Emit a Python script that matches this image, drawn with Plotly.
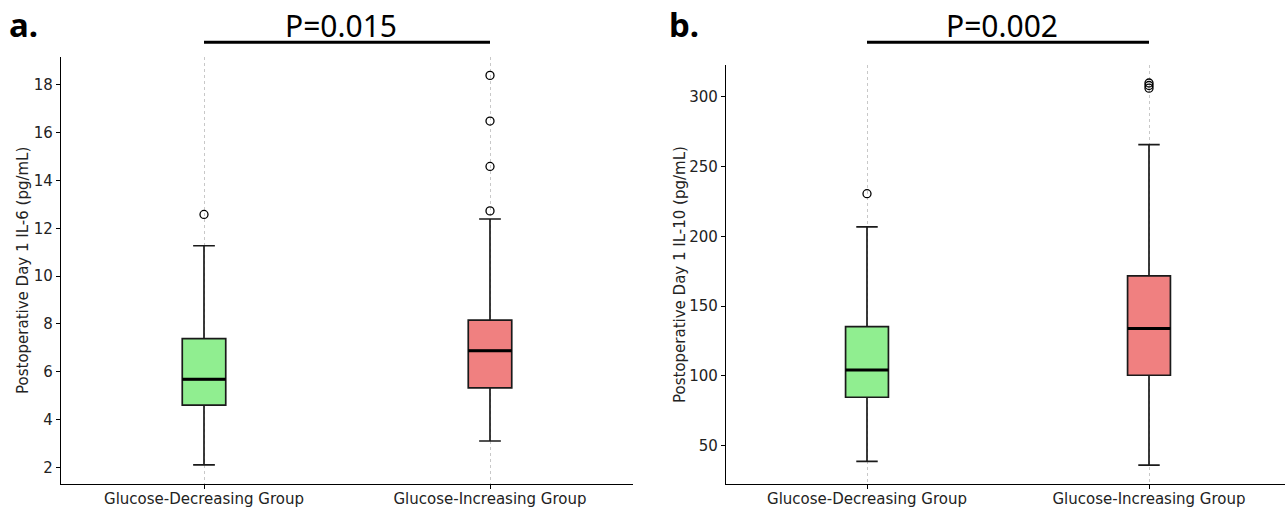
import plotly.graph_objects as go

# ---- data ----
categories = ["Glucose-Decreasing Group", "Glucose-Increasing Group"]
fill_colors = ["#90EE90", "#F08080"]

# Panel a: IL-6
il6_low = [2.1, 3.1]
il6_q1 = [4.6, 5.32]
il6_median = [5.68, 6.88]
il6_q3 = [7.38, 8.16]
il6_high = [11.27, 12.39]
il6_outliers = [[12.58], [12.73, 14.59, 16.49, 18.4]]
il6_p = "P=0.015"

# Panel b: IL-10
il10_low = [38.6, 36.0]
il10_q1 = [84.6, 100.4]
il10_median = [104.2, 134.0]
il10_q3 = [135.2, 171.7]
il10_high = [206.8, 265.8]
il10_outliers = [[230.6], [306.3, 308.2, 310.0]]
il10_p = "P=0.002"

y_titles = ["Postoperative Day 1 IL-6 (pg/mL)", "Postoperative Day 1 IL-10 (pg/mL)"]
panel_labels = ["a.", "b."]

W, H = 1285, 508
FONT = "DejaVu Sans"
BOXW = 0.152

fig = go.Figure()

panels = [
    dict(low=il6_low, q1=il6_q1, med=il6_median, q3=il6_q3, high=il6_high,
         out=il6_outliers, p=il6_p, xa="x", ya="y"),
    dict(low=il10_low, q1=il10_q1, med=il10_median, q3=il10_q3, high=il10_high,
         out=il10_outliers, p=il10_p, xa="x2", ya="y2"),
]

positions = [i + 1 for i in range(len(categories))]

for pn in panels:
    for i, cat in enumerate(categories):
        pos = positions[i]
        fig.add_trace(go.Box(
            x=[pos], q1=[pn["q1"][i]], median=[pn["med"][i]], q3=[pn["q3"][i]],
            lowerfence=[pn["low"][i]], upperfence=[pn["high"][i]],
            width=BOXW, fillcolor=fill_colors[i],
            line=dict(color="#1a1a1a", width=1.7), whiskerwidth=0.5,
            boxpoints=False, showlegend=False, hoverinfo="skip", name=cat,
            xaxis=pn["xa"], yaxis=pn["ya"],
        ))
        # thicker median line
        fig.add_trace(go.Scatter(
            x=[pos - BOXW / 2, pos + BOXW / 2], y=[pn["med"][i]] * 2,
            mode="lines", line=dict(color="black", width=3),
            showlegend=False, hoverinfo="skip", xaxis=pn["xa"], yaxis=pn["ya"],
        ))
        if pn["out"][i]:
            fig.add_trace(go.Scatter(
                x=[pos] * len(pn["out"][i]), y=pn["out"][i], mode="markers",
                marker=dict(symbol="circle-open", size=8, color="black",
                            line=dict(width=1.3, color="black")),
                showlegend=False, hoverinfo="skip", xaxis=pn["xa"], yaxis=pn["ya"],
            ))

axis_common = dict(
    showline=True, linecolor="black", linewidth=1.2,
    ticks="outside", ticklen=4, tickwidth=1, tickcolor="black",
    tickfont=dict(family=FONT, size=15, color="#222"),
    zeroline=False, mirror=False,
)

xa_common = dict(axis_common, tickvals=positions, ticktext=categories,
                 showgrid=True, gridcolor="#c8c8c8", griddash="dot", gridwidth=1,
                 ticklabelstandoff=-3)

fig.update_layout(
    width=W, height=H,
    margin=dict(l=0, r=0, t=0, b=0),
    paper_bgcolor="white", plot_bgcolor="white",
    xaxis=dict(xa_common, domain=[61 / W, 633 / W], range=[0.5, 2.5], anchor="y"),
    yaxis=dict(axis_common, domain=[1 - 484 / H, 1 - 57 / H], range=[1.30, 19.17],
               tickvals=[2, 4, 6, 8, 10, 12, 14, 16, 18], showgrid=False, anchor="x"),
    xaxis2=dict(xa_common, domain=[726 / W, 1.0], range=[0.5, 2.5 - 5 / 282], anchor="y2"),
    yaxis2=dict(axis_common, domain=[1 - 484 / H, 1 - 65 / H], range=[22.4, 322.9],
                tickvals=[50, 100, 150, 200, 250, 300], showgrid=False, anchor="x2"),
)

# y-axis titles
for x_px, y_px, txt in [(23, 271, y_titles[0]), (680, 275, y_titles[1])]:
    fig.add_annotation(xref="paper", yref="paper", x=x_px / W, y=1 - y_px / H,
                       text=txt, textangle=-90, showarrow=False,
                       xanchor="center", yanchor="middle",
                       font=dict(family=FONT, size=15, color="#222"))

# titles: P-value bars and panel labels
for k, pn in enumerate(panels):
    xref = pn["xa"]
    fig.add_shape(type="line", xref=xref, yref="paper",
                  x0=positions[0], x1=positions[1], y0=1 - 42.3 / H, y1=1 - 42.3 / H,
                  line=dict(color="black", width=3))
    fig.add_annotation(xref=xref, yref="paper", x=(positions[0] + positions[1]) / 2,
                       y=1 - 25 / H, text=pn["p"], showarrow=False, xshift=-6,
                       xanchor="center", yanchor="middle",
                       font=dict(family="Noto Sans", size=30, color="black"))

fig.add_annotation(xref="paper", yref="paper", x=7 / W, y=1 - 24 / H, text="<b>a.</b>",
                   showarrow=False, xanchor="left", yanchor="middle",
                   font=dict(family="Noto Sans", size=33, color="black"))
fig.add_annotation(xref="paper", yref="paper", x=667 / W, y=1 - 24 / H, text="<b>b.</b>",
                   showarrow=False, xanchor="left", yanchor="middle",
                   font=dict(family="Noto Sans", size=33, color="black"))

fig.write_html("out.html")
